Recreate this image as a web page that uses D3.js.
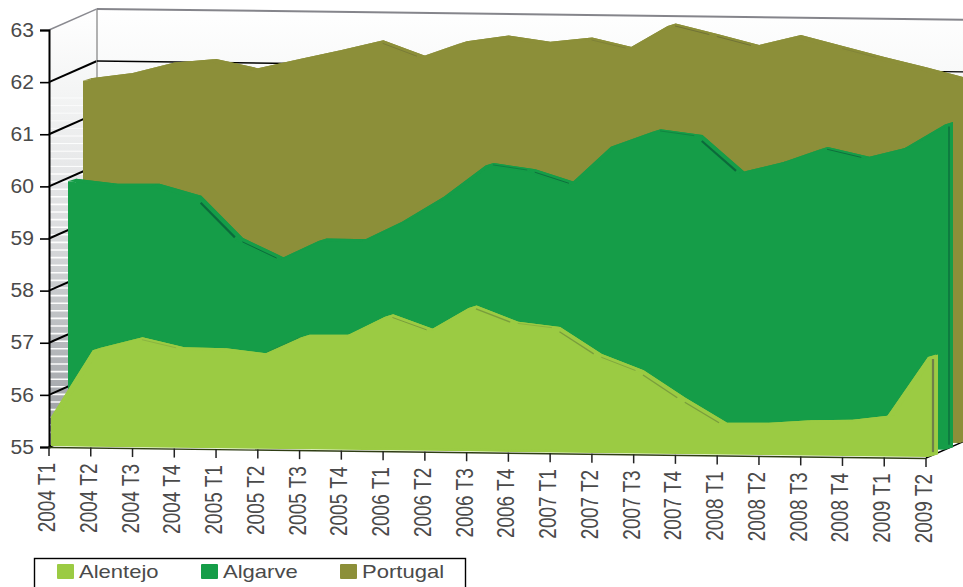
<!DOCTYPE html>
<html>
<head>
<meta charset="utf-8">
<script src="https://cdnjs.cloudflare.com/ajax/libs/d3/7.8.5/d3.min.js"></script>
<style>
  html, body { margin: 0; padding: 0; background: #fff; overflow: hidden; }
  text { font-family: "Liberation Sans", Arial, sans-serif; fill: #4a4a4a; }
</style>
</head>
<body>
<div id="chart"></div>
<script>
const categories = ['2004 T1', '2004 T2', '2004 T3', '2004 T4', '2005 T1', '2005 T2', '2005 T3', '2005 T4',
  '2006 T1', '2006 T2', '2006 T3', '2006 T4', '2007 T1', '2007 T2', '2007 T3', '2007 T4',
  '2008 T1', '2008 T2', '2008 T3', '2008 T4', '2009 T1', '2009 T2'];

const alentejo = [55.56, 56.85, 57.06, 56.88, 56.87, 56.78, 57.15, 57.16, 57.56, 57.28, 57.75,
  57.45, 57.36, 56.85, 56.55, 56.03, 55.56, 55.57, 55.63, 55.65, 55.75, 56.92];
const algarve = [59.94, 59.85, 59.86, 59.64, 58.84, 58.47, 58.85, 58.85, 59.24, 59.73, 60.34,
  60.23, 59.98, 60.73, 61.03, 60.93, 60.24, 60.44, 60.73, 60.55, 60.76, 61.24];
const portugal = [61.74, 61.85, 62.06, 62.14, 61.97, 62.16, 62.34, 62.54, 62.25, 62.54, 62.66,
  62.55, 62.64, 62.46, 62.93, 62.74, 62.54, 62.74, 62.54, 62.34, 62.15, 61.95];

const seriesNames = ['Alentejo', 'Algarve', 'Portugal'];
const seriesColors = ['#9bcb43', '#159d48', '#8c8f39'];

const width = 963;
const height = 587;

const x = d3.scalePoint().domain(d3.range(categories.length)).range([49, 926]);
const y = d3.scaleLinear().domain([55, 63]).range([447, 30]);

// fake 3d: everything is sheared along x and pushed back along the side wall
const shear = 11 / 877;
const wallDepth = 48;
const wallRise = 0.44;
const thickX = 8;
const thickY = 2.5;

const px = (i, d) => x(i) + d;
const py = (i, v, d) => y(v) + (x(i) - 49) * shear - d * wallRise;

const series = [
  {name: 'Alentejo', values: alentejo, depth: 2, thick: 10, color: seriesColors[0], crease: 'rgba(70,90,50,0.4)',
    marks: [[2, 0.5], [5, 0.4], [8, 1], [10, 1.3], [11, 0.5], [12, 1.3], [13, 0.8], [14, 1.3], [15, 1.3]],
    endLine: {dx: 5, w: 2.2, color: '#6e7f4a'}},
  {name: 'Algarve', values: algarve, depth: 19, thick: 8, color: seriesColors[1], crease: 'rgba(10,90,55,0.75)',
    marks: [[3, 2.2], [4, 1], [10, 0.6], [11, 0.9], [14, 0.5], [15, 2.2], [18, 0.9]],
    endLine: {dx: 4, w: 1.3, color: '#0c6b3c'}},
  {name: 'Portugal', values: portugal, depth: 34, thick: 8, color: seriesColors[2], crease: 'rgba(80,80,50,0.45)',
    marks: [[7, 0.7], [12, 0.5], [14, 1], [15, 1], [18, 0.4]]}
];

const svg = d3.select('#chart').append('svg')
  .attr('width', width)
  .attr('height', height)
  .style('display', 'block');

const defs = svg.append('defs');
const wallGrad = defs.append('linearGradient').attr('id', 'wall')
  .attr('x1', 0).attr('x2', 0).attr('y1', 0).attr('y2', 1);
[[0, '#ffffff'], [0.2, '#f3f4f4'], [0.5, '#dcdddf'], [0.75, '#b8bbbe'], [1, '#97999e']].forEach(s => {
  wallGrad.append('stop').attr('offset', s[0]).attr('stop-color', s[1]);
});
const backGrad = defs.append('linearGradient').attr('id', 'back')
  .attr('x1', 0).attr('x2', 0).attr('y1', 0).attr('y2', 1);
backGrad.append('stop').attr('offset', 0).attr('stop-color', '#ffffff');
backGrad.append('stop').attr('offset', 0.15).attr('stop-color', '#f8f9f9');
backGrad.append('stop').attr('offset', 1).attr('stop-color', '#eeeeee');

// walls
const wallLine = d3.line();
const lastI = categories.length - 1;
const rightX = 49 + 877 + wallDepth + 10;
const rightShear = (rightX - wallDepth - 49) * shear;

svg.append('path')
  .attr('d', wallLine([[49 + wallDepth, y(63) - wallDepth * wallRise],
    [rightX, y(63) - wallDepth * wallRise + rightShear],
    [rightX, y(55) - wallDepth * wallRise + rightShear],
    [49 + wallDepth, y(55) - wallDepth * wallRise]]) + 'Z')
  .attr('fill', 'url(#back)');

svg.append('path')
  .attr('d', wallLine([[49, y(63)], [49 + wallDepth, y(63) - wallDepth * wallRise],
    [49 + wallDepth, y(55) - wallDepth * wallRise], [49, y(55)]]) + 'Z')
  .attr('fill', 'url(#wall)');

// white banding on the side wall
svg.append('g').selectAll('line')
  .data(d3.range(98, 436, 7.6))
  .join('line')
  .attr('x1', 50).attr('x2', 49 + wallDepth)
  .attr('y1', d => d).attr('y2', d => d)
  .attr('stroke', '#fff')
  .attr('stroke-width', d => d < 170 ? 1 : 1.6)
  .attr('stroke-opacity', d => d < 130 ? 0.7 : 0.95);

// grid on walls
const gridVals = d3.range(55, 64);
svg.append('g').selectAll('line')
  .data(gridVals)
  .join('line')
  .attr('x1', 49).attr('y1', d => y(d))
  .attr('x2', 49 + wallDepth).attr('y2', d => y(d) - wallDepth * wallRise)
  .attr('stroke', d => d === 63 ? '#8a8a90' : '#000')
  .attr('stroke-width', d => d === 63 ? 1.5 : 2);

svg.append('line')
  .attr('x1', 49 + wallDepth).attr('x2', 49 + wallDepth)
  .attr('y1', y(63) - wallDepth * wallRise).attr('y2', y(55) - wallDepth * wallRise)
  .attr('stroke', '#999').attr('stroke-width', 1.5);

svg.append('g').selectAll('line')
  .data(gridVals)
  .join('line')
  .attr('x1', 49 + wallDepth).attr('y1', d => y(d) - wallDepth * wallRise)
  .attr('x2', rightX).attr('y2', d => y(d) - wallDepth * wallRise + rightShear)
  .attr('stroke', d => d === 63 ? '#85858b' : '#000')
  .attr('stroke-width', d => d === 63 ? 2 : 1.4);

// floor right edge
svg.append('line')
  .attr('x1', px(lastI, 0)).attr('y1', py(lastI, 55, 0))
  .attr('x2', px(lastI, 0) + wallDepth).attr('y2', py(lastI, 55, 0) - wallDepth * wallRise)
  .attr('stroke', '#000').attr('stroke-width', 1.5);

// ribbons, back to front
series.slice().reverse().forEach(s => {
  const g = svg.append('g').attr('fill', s.color);
  const pts = s.values.map((v, i) => ({i, v}));
  const d0 = s.depth;
  const tx = s.thick;

  [0, 1].forEach(k => {
    const area = d3.area()
      .x(d => px(d.i, d0) + k * thickX)
      .y0(d => py(d.i, 55, d0) - k * thickY)
      .y1(d => py(d.i, d.v, d0) - k * thickY);
    g.append('path').attr('d', area(pts));
  });

  // top faces
  g.selectAll('path.top')
    .data(d3.pairs(pts))
    .join('path')
    .attr('class', 'top')
    .attr('d', ([a, b]) => wallLine([
      [px(a.i, d0), py(a.i, a.v, d0)],
      [px(b.i, d0), py(b.i, b.v, d0)],
      [px(b.i, d0) + thickX, py(b.i, b.v, d0) - thickY],
      [px(a.i, d0) + thickX, py(a.i, a.v, d0) - thickY]]) + 'Z');

  // right end and floor edge
  const e = pts[lastI];
  g.append('path').attr('d', wallLine([
    [px(lastI, d0), py(lastI, e.v, d0)],
    [px(lastI, d0) + tx, py(lastI, e.v, d0) - thickY],
    [px(lastI, d0) + tx, py(lastI, 55, d0) - thickY],
    [px(lastI, d0), py(lastI, 55, d0)]]) + 'Z');

  // darker creases where the ribbon falls
  s.marks.forEach(([i, w]) => {
    const a = pts[i], b = pts[i + 1];
    const lerp = t => [px(i, d0) + t * (px(i + 1, d0) - px(i, d0)) + 1.5,
      py(i, a.v, d0) + t * (py(i + 1, b.v, d0) - py(i, a.v, d0)) - 1.5];
    svg.append('path')
      .attr('d', wallLine([lerp(0.14), lerp(0.96)]))
      .attr('stroke', s.crease)
      .attr('stroke-width', w)
      .attr('fill', 'none');
  });

  if (s.endLine) {
    svg.append('line')
      .attr('x1', px(lastI, d0) + s.endLine.dx).attr('x2', px(lastI, d0) + s.endLine.dx)
      .attr('y1', py(lastI, e.v, d0) + 2).attr('y2', py(lastI, 55, d0) - 5)
      .attr('stroke', s.endLine.color)
      .attr('stroke-width', s.endLine.w);
  }
});

// y axis
const yAxis = d3.axisLeft(y).tickValues(gridVals).tickFormat(d3.format('d')).tickSize(9).tickPadding(5);
const gy = svg.append('g').attr('transform', 'translate(49,0)').call(yAxis);
gy.selectAll('text')
  .style('font-size', '19.5px')
  .attr('font-family', null)
  .attr('transform', 'scale(1.08,1)');
gy.selectAll('line').attr('stroke', '#000').attr('stroke-width', 1.6);
gy.select('.domain').attr('stroke', '#000').attr('stroke-width', 2);

// x axis follows the shear so the ticks are done by hand
svg.append('line')
  .attr('x1', x(0)).attr('y1', y(55) + 0.5)
  .attr('x2', x(lastI)).attr('y2', py(lastI, 55, 0) + 0.5)
  .attr('stroke', '#2f3d14').attr('stroke-width', 1.4);

const gx = svg.append('g');
gx.selectAll('line')
  .data(categories)
  .join('line')
  .attr('x1', (d, i) => x(i)).attr('x2', (d, i) => x(i))
  .attr('y1', (d, i) => py(i, 55, 0)).attr('y2', (d, i) => py(i, 55, 0) + 9)
  .attr('stroke', '#222').attr('stroke-width', 1.5);
// labels in the original are squeezed along their length
gx.selectAll('text')
  .data(categories)
  .join('text')
  .attr('transform', (d, i) => `translate(${x(i) + 6},${py(i, 55, 0) + 16}) rotate(-90) scale(1,1.28)`)
  .attr('text-anchor', 'end')
  .style('font-size', '19px')
  .text(d => d);

// legend
svg.append('rect')
  .attr('x', 34.5).attr('y', 558.5)
  .attr('width', 431).attr('height', 40)
  .attr('fill', '#fff').attr('stroke', '#000').attr('stroke-width', 1.4);

const legendX = d3.scaleOrdinal().domain(seriesNames).range([57, 201, 340]);
const legend = svg.append('g').selectAll('g')
  .data(seriesNames)
  .join('g')
  .attr('transform', d => `translate(${legendX(d)},0)`);
legend.append('rect')
  .attr('y', 564).attr('width', 17).attr('height', 15).attr('rx', 1)
  .attr('fill', (d, i) => seriesColors[i]);
legend.append('text')
  .attr('transform', 'translate(22,578) scale(1.16,1)')
  .style('font-size', '19px')
  .text(d => d);
</script>
</body>
</html>
